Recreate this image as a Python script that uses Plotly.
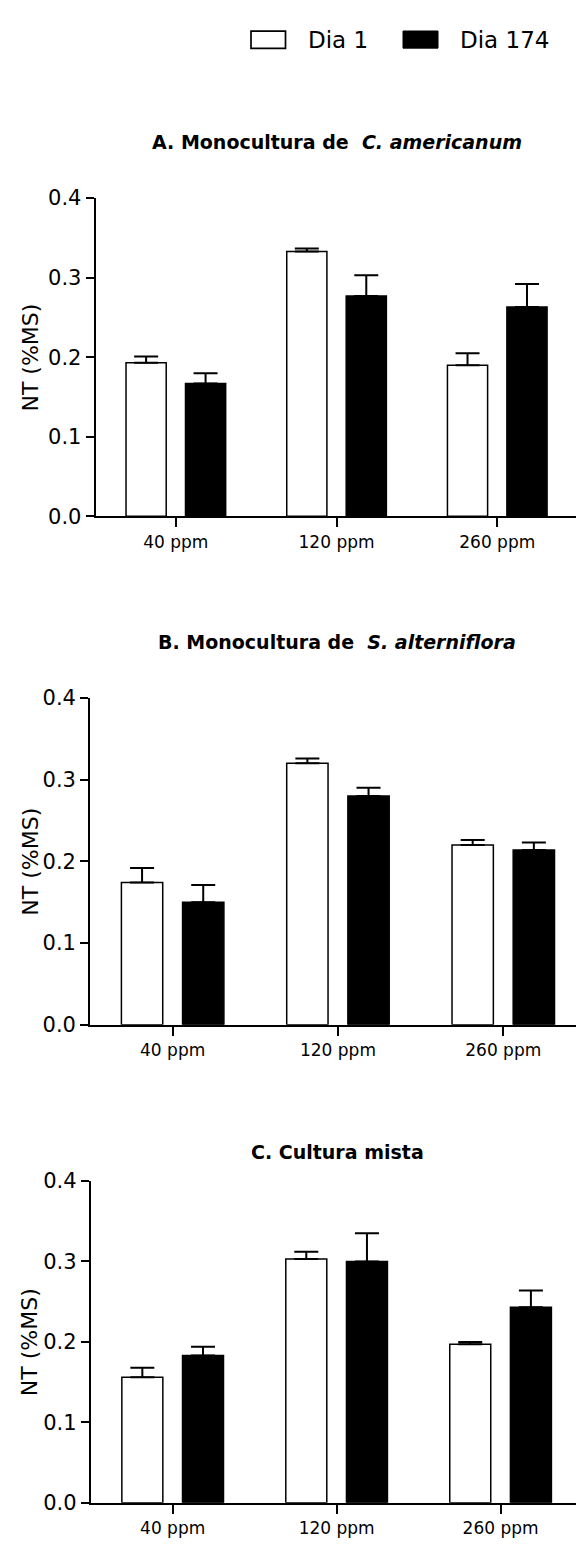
import plotly.graph_objects as go

W, H = 576, 1550

# Treatments (x categories) and series names
categories = ["40 ppm", "120 ppm", "260 ppm"]
series_names = ["Dia 1", "Dia 174"]

# NT (%MS) means and upper SEM, per panel
a_dia1 = [0.193, 0.333, 0.190]
a_dia1_err = [0.008, 0.0035, 0.015]
a_dia174 = [0.167, 0.277, 0.263]
a_dia174_err = [0.013, 0.026, 0.029]

b_dia1 = [0.174, 0.320, 0.220]
b_dia1_err = [0.018, 0.006, 0.006]
b_dia174 = [0.150, 0.280, 0.214]
b_dia174_err = [0.021, 0.010, 0.009]

c_dia1 = [0.156, 0.303, 0.197]
c_dia1_err = [0.012, 0.009, 0.003]
c_dia174 = [0.183, 0.300, 0.243]
c_dia174_err = [0.011, 0.035, 0.021]

panel_titles = [
    "<b>A. Monocultura de\u00a0 <i>C. americanum</i></b>",
    "<b>B. Monocultura de\u00a0 <i>S. alterniflora</i></b>",
    "<b>C. Cultura mista</b>",
]
y_title = "NT (%MS)"
y_ticks = [0.0, 0.1, 0.2, 0.3, 0.4]

FONT = "DejaVu Sans"


def px(x):
    return x / W


def py(y):
    return 1 - y / H


# pixel layout of each panel: (axis left, 0.4 line, 0.0 line, x range max, title y)
panels = [
    (95.5, 189.0, 512.3, 2.49, 132.0),
    (90.0, 696.7, 1028.7, 2.44, 640.0),
    (90.7, 1187.3, 1514.3, 2.46, 1157.5),
]
data_sets = [
    (a_dia1, a_dia1_err, a_dia174, a_dia174_err),
    (b_dia1, b_dia1_err, b_dia174, b_dia174_err),
    (c_dia1, c_dia1_err, c_dia174, c_dia174_err),
]

fig = go.Figure()
annotations = []
layout_axes = {}

for i, ((left, top, bottom, xmax, title_y), (d1, e1, d2, e2)) in enumerate(zip(panels, data_sets)):
    n = "" if i == 0 else str(i + 1)
    xa, ya = "x" + n, "y" + n
    for vals, errs, fill, off in ((d1, e1, "white", -0.31), (d2, e2, "black", 0.06)):
        fig.add_trace(go.Bar(
            x=categories, y=vals, xaxis=xa, yaxis=ya,
            width=0.25, offset=off,
            marker=dict(color=fill, line=dict(color="black", width=1.5)),
            error_y=dict(type="data", array=errs, arrayminus=[0] * len(errs),
                         symmetric=False, color="black", thickness=2, width=12),
            showlegend=False,
        ))
    layout_axes["xaxis" + n] = dict(
        domain=[px(left), 1.0], anchor=ya, type="category",
        categoryorder="array", categoryarray=categories,
        range=[-0.5, xmax], showline=True, linecolor="black", linewidth=1.7,
        ticks="outside", ticklen=9, tickwidth=1.7, tickcolor="black",
        showgrid=False, zeroline=False,
        tickfont=dict(family=FONT, size=17, color="black"),
    )
    layout_axes["yaxis" + n] = dict(
        domain=[py(bottom), py(top)], anchor=xa, range=[0, 0.4],
        tickvals=y_ticks, tickformat=".1f",
        showline=True, linecolor="black", linewidth=1.7,
        ticks="outside", ticklen=8, tickwidth=1.7, tickcolor="black",
        showgrid=False, zeroline=False,
        tickfont=dict(family=FONT, size=21, color="black"),
    )
    annotations.append(dict(
        text=panel_titles[i], x=px(337), y=py(title_y), xref="paper", yref="paper",
        xanchor="center", yanchor="middle", showarrow=False,
        font=dict(family=FONT, size=19, color="black"),
    ))
    annotations.append(dict(
        text=y_title, x=px(30.3), y=py((top + bottom) / 2), xref="paper", yref="paper",
        xanchor="center", yanchor="middle", textangle=-90, showarrow=False,
        font=dict(family=FONT, size=22, color="black"),
    ))

# legend: swatches and labels across the top
shapes = [
    dict(type="rect", xref="paper", yref="paper", x0=px(251), x1=px(285.5),
         y0=py(37), y1=py(19.5), fillcolor="white", line=dict(color="black", width=1.7)),
    dict(type="rect", xref="paper", yref="paper", x0=px(403), x1=px(438),
         y0=py(36.7), y1=py(19.3), fillcolor="black", line=dict(color="black", width=1)),
]
for label, x0 in zip(series_names, (306, 458)):
    annotations.append(dict(
        text=label, x=px(x0), y=py(28.5), xref="paper", yref="paper",
        xanchor="left", yanchor="middle", showarrow=False,
        font=dict(family=FONT, size=23, color="black"),
    ))

fig.update_layout(
    width=W, height=H, margin=dict(l=0, r=0, t=0, b=0),
    paper_bgcolor="white", plot_bgcolor="white",
    barmode="overlay", showlegend=False,
    annotations=annotations, shapes=shapes,
    **layout_axes,
)

fig.write_html("out.html")
